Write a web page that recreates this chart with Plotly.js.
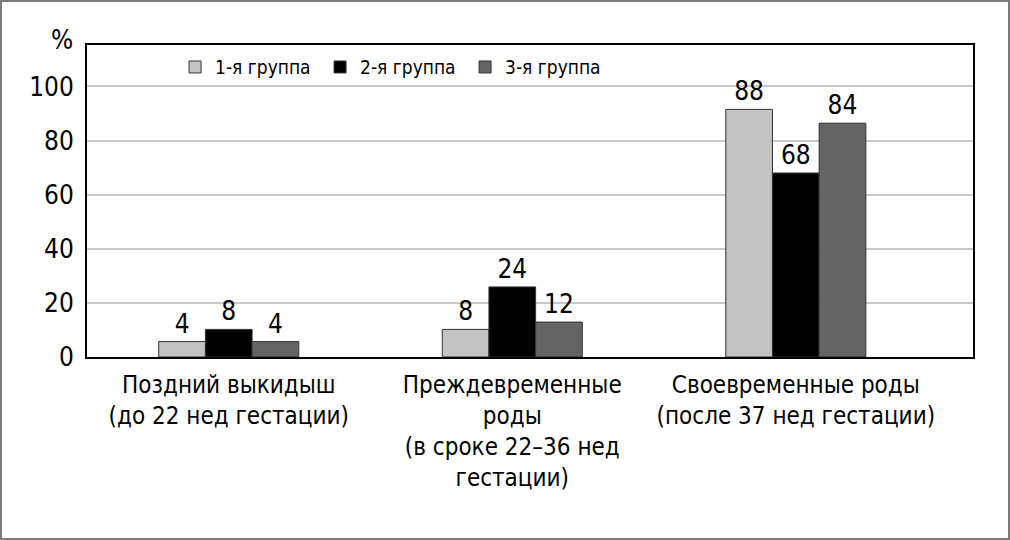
<!DOCTYPE html>
<html>
<head>
<meta charset="utf-8">
<script src="https://cdn.plot.ly/plotly-3.0.1.min.js"></script>
<style>
  html, body { margin: 0; padding: 0; background: #fff; }
  #wrap { width: 1010px; height: 540px; box-sizing: border-box; border: 2px solid #7a7a7a; position: relative; overflow: hidden; }
  #chart { position: absolute; left: -2px; top: -2px; width: 1010px; height: 540px; }
</style>
</head>
<body>
<div id="wrap"><div id="chart"></div></div>
<script>
// Categories (x-axis tick labels)
var categories = ["c1", "c2", "c3"];
var categoryLabels = [
  "Поздний выкидыш<br>(до 22 нед гестации)",
  "Преждевременные<br>роды<br>(в сроке 22–36 нед<br>гестации)",
  "Своевременные роды<br>(после 37 нед гестации)"
];
var seriesNames = ["1-я группа", "2-я группа", "3-я группа"];
// Bar heights as drawn in the picture (%)
var group1 = [5.7, 10.2, 91.5];
var group2 = [10.2, 25.9, 68.0];
var group3 = [5.7, 12.9, 86.4];
// Value labels printed above the bars
var group1Labels = ["4", "8", "88"];
var group2Labels = ["8", "24", "68"];
var group3Labels = ["4", "12", "84"];
var yTicks = [0, 20, 40, 60, 80, 100];

var FONT = "'Liberation Sans Narrow', 'Arial Narrow', 'DejaVu Sans Condensed', sans-serif";
var colors = ["#c3c3c3", "#000000", "#646464"];
var ys = [group1, group2, group3];
var labels = [group1Labels, group2Labels, group3Labels];

var traces = ys.map(function (y, i) {
  return {
    type: "bar",
    name: seriesNames[i],
    x: categories,
    y: y,
    text: labels[i],
    textposition: "outside",
    cliponaxis: false,
    textfont: { family: FONT, size: 26, color: "#000" },
    marker: { color: colors[i], line: { color: "#333", width: 1 } },
    hoverinfo: "none"
  };
});

var layout = {
  width: 1010, height: 540,
  margin: { l: 87, r: 37, t: 45, b: 183 },
  paper_bgcolor: "#ffffff", plot_bgcolor: "#ffffff",
  font: { family: FONT, color: "#000" },
  barmode: "group",
  bargap: 0.506, bargroupgap: 0,
  showlegend: true,
  legend: {
    orientation: "h", x: 0.0994, y: 0.99, xanchor: "left", yanchor: "top",
    font: { family: FONT, size: 19, color: "#000" },
    bgcolor: "rgba(0,0,0,0)", entrywidth: 100, entrywidthmode: "pixels",
    traceorder: "normal"
  },
  xaxis: {
    type: "category",
    range: [-0.5, 2.625],
    tickvals: categories, ticktext: categoryLabels,
    tickfont: { family: FONT, size: 24, color: "#000" },
    showline: true, linecolor: "#000", linewidth: 2, mirror: true,
    ticks: "", showgrid: false, fixedrange: true,
    ticklabelstandoff: 5
  },
  yaxis: {
    range: [0, 115.3],
    tickvals: yTicks,
    tickfont: { family: FONT, size: 26, color: "#000" },
    showline: true, linecolor: "#000", linewidth: 2, mirror: true,
    showgrid: true, gridcolor: "#c8c8c8", gridwidth: 2,
    zeroline: false, ticks: "", ticklabelstandoff: 6, fixedrange: true
  },
  annotations: [{
    text: "%", xref: "paper", yref: "paper", x: -0.028, y: 1.016,
    xanchor: "center", yanchor: "middle", showarrow: false,
    font: { family: FONT, size: 26, color: "#000" }
  }]
};

Plotly.newPlot("chart", traces, layout, { staticPlot: true, displayModeBar: false });
</script>
</body>
</html>
